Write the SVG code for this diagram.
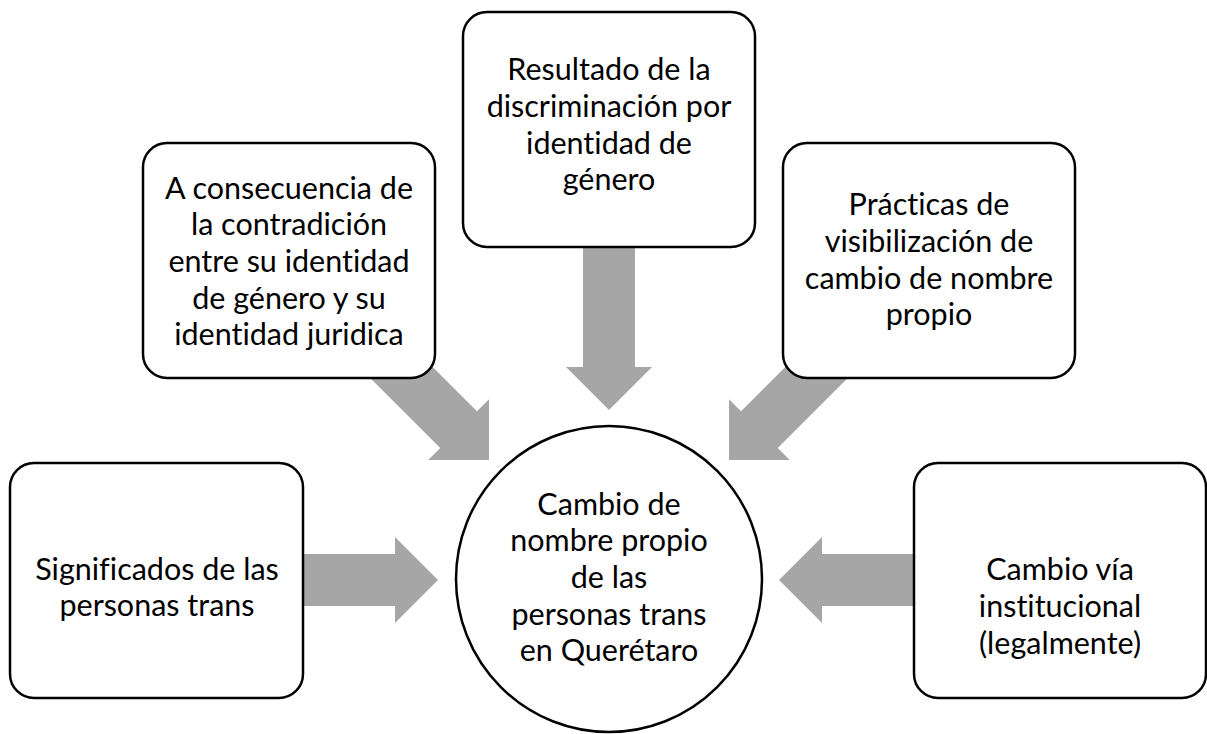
<svg xmlns="http://www.w3.org/2000/svg" width="1207" height="734" viewBox="0 0 1207 734">
<style>
.box{fill:#fff;stroke:#000;stroke-width:2.5}
.arr{fill:#A6A6A6}
.t{font-family:Lato,"Open Sans","DejaVu Sans",sans-serif;font-size:30.5px;fill:#000;text-anchor:middle;font-variant-ligatures:none;font-feature-settings:"liga" 0,"clig" 0}
</style>
<defs>
<path id="arrow" d="M0,0 L-43,-43 L-43,-26 L-170,-26 L-170,26 L-43,26 L-43,43 Z"/>
</defs>
<rect width="1207" height="734" fill="#fff"/>
<g id="connectors">
<use href="#arrow" class="arr" transform="translate(438,580)"/>
<use href="#arrow" class="arr" transform="translate(779,580) rotate(180)"/>
<use href="#arrow" class="arr" transform="translate(609,410) rotate(90)"/>
<use href="#arrow" class="arr" transform="translate(489,460) rotate(45)"/>
<use href="#arrow" class="arr" transform="translate(729,460) rotate(135)"/>
</g>
<g id="node-significados">
<rect class="box" x="10" y="463" width="293" height="235" rx="24"/>
<text class="t" x="157" y="579.7">Significados de las</text>
<text class="t" x="157" y="616.3">personas trans</text>
</g>
<g id="node-consecuencia">
<rect class="box" x="143" y="143" width="292" height="235" rx="24"/>
<text class="t" x="289" y="198.8">A consecuencia de</text>
<text class="t" x="289" y="235.4">la contradición</text>
<text class="t" x="289" y="272">entre su identidad</text>
<text class="t" x="289" y="308.6">de género y su</text>
<text class="t" x="289" y="345.2">identidad juridica</text>
</g>
<g id="node-resultado">
<rect class="box" x="463" y="12" width="292" height="235" rx="24"/>
<text class="t" x="609" y="80.4">Resultado de la</text>
<text class="t" x="609" y="116.9">discriminación por</text>
<text class="t" x="609" y="153.6">identidad de</text>
<text class="t" x="609" y="190.2">género</text>
</g>
<g id="node-practicas">
<rect class="box" x="783" y="143" width="292" height="235" rx="24"/>
<text class="t" x="929" y="215.4">Prácticas de</text>
<text class="t" x="929" y="252">visibilización de</text>
<text class="t" x="929" y="288.6">cambio de nombre</text>
<text class="t" x="929" y="325.2">propio</text>
</g>
<g id="node-cambio-via">
<rect class="box" x="914" y="463" width="292" height="235" rx="24"/>
<text class="t" x="1060" y="580.4">Cambio vía</text>
<text class="t" x="1060" y="617">institucional</text>
<text class="t" x="1060" y="653.6">(legalmente)</text>
</g>
<g id="node-centro">
<circle class="box" cx="609" cy="579" r="153"/>
<text class="t" x="609" y="514.8">Cambio de</text>
<text class="t" x="609" y="551.4">nombre propio</text>
<text class="t" x="609" y="588">de las</text>
<text class="t" x="609" y="624.6">personas trans</text>
<text class="t" x="609" y="661.2">en Querétaro</text>
</g>
</svg>
